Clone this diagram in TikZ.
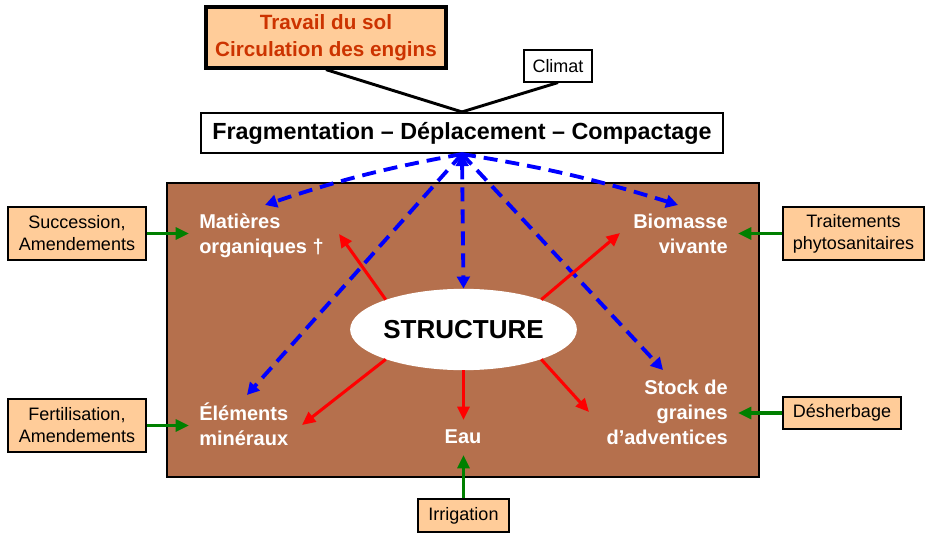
\documentclass[tikz,border=0pt]{standalone}
\usepackage{fontspec}
\setmainfont{Liberation Sans}
\usetikzlibrary{arrows.meta}
\usetikzlibrary{positioning}
\usetikzlibrary{shapes.geometric}

\definecolor{soil}{RGB}{181,112,77}
\definecolor{peach}{RGB}{255,204,153}
\definecolor{rust}{RGB}{204,51,0}
\definecolor{leaf}{RGB}{0,128,0}

\begin{document}
\begin{tikzpicture}[x=0.75pt,y=-0.75pt,
        inbox/.style={draw,fill=peach,line width=1.1pt,align=center,inner sep=0pt,
            font=\fontsize{13.5}{16.5}\selectfont},
        soiltext/.style={text=white,inner sep=0pt,font=\bfseries\fontsize{15}{18.75}\selectfont},
        effect/.style={red,line width=2.3pt,-{Triangle[length=10pt,width=9pt]}},
        action/.style={leaf,line width=2.3pt,-{Triangle[length=10pt,width=9pt]}},
        impact/.style={blue,line width=2.9pt,dash pattern=on 10.5pt off 6pt,-{Triangle[length=9pt,width=9.5pt]}}]

        \useasboundingbox (0,0) rectangle (931,538);
        \filldraw[fill=soil,draw=black,line width=0.8pt] (167,183) rectangle (759,477);

        % facteurs en haut
        \node[draw,fill=peach,line width=2.4pt,minimum width=180pt,minimum height=45.75pt,align=center,
            text=rust,font=\bfseries\fontsize{15.5}{20}\selectfont] (travail) at (326,37.5)
            {Travail du sol\\Circulation des engins};
        \node[draw,fill=white,line width=0.8pt,minimum width=51pt,minimum height=24pt,inner sep=0pt,
            font=\fontsize{13.5}{16}\selectfont] (climat) at (558,66) {Climat};
        \node[draw,fill=white,line width=1.6pt,minimum width=391.5pt,minimum height=30pt,inner sep=0pt,
            font=\bfseries\fontsize{17.5}{20}\selectfont] (frag) at (462,133)
            {Fragmentation – Déplacement – Compactage};

        \draw[line width=2.2pt] (travail.south) -- (frag.north);
        \draw[line width=2.2pt] (climat.south) -- (frag.north);

        % contenu du sol
        \node[ellipse,fill=white,minimum width=167pt,minimum height=61pt,inner sep=0pt,
            font=\bfseries\fontsize{19.5}{22}\selectfont] (struct) at (463.5,329.5) {STRUCTURE};
        \node[soiltext,anchor=west,align=left] (mo) at (199,235.5) {Matières\\organiques †};
        \node[soiltext,anchor=west,align=left] (mineraux) at (199,424.5) {Éléments\\minéraux};
        \node[soiltext,anchor=east,align=right] (bio) at (728,233.8) {Biomasse\\vivante};
        \node[soiltext,anchor=east,align=right] (stock) at (728,412.5) {Stock de\\graines\\d’adventices};
        \node[soiltext] (eau) at (463,437) {Eau};

        % pratiques
        \node[inbox,minimum width=103.5pt,minimum height=40pt] (succ) at (77,233.5) {Succession,\\Amendements};
        \node[inbox,minimum width=103.5pt,minimum height=40pt] (ferti) at (77,425.5) {Fertilisation,\\Amendements};
        \node[inbox,minimum width=106pt,minimum height=40pt] (phyto) at (853.5,233.5) {Traitements\\phytosanitaires};
        \node[inbox,minimum width=88.5pt,minimum height=24pt] (desherb) at (842,413) {Désherbage};
        \node[inbox,minimum width=68pt,minimum height=25pt] (irrig) at (463.5,515.5) {Irrigation};

        % bouts des fleches
        \coordinate (toMO) at (265,205);
        \coordinate (toMin) at (247,395);
        \coordinate (toBio) at (678,205);
        \coordinate (toStock) at (663,370);
        \coordinate (rMO) at (339,234);
        \coordinate (rMin) at (302,425);
        \coordinate (rBio) at (620,233);
        \coordinate (rStock) at (589,412);
        \coordinate (rEau) at (463.5,420);
        \coordinate (gMO) at (189,233.5);
        \coordinate (gMin) at (189,425.5);
        \coordinate (gBio) at (738,233.5);
        \coordinate (gStock) at (738,413);
        \coordinate (gEau) at (463.5,455);

        \draw[impact] (frag.south) to[bend right=4] (toMO);
        \draw[impact] (frag.south) -- (toMin);
        \draw[impact,{Triangle[length=9pt,width=9.5pt]}-{Triangle[length=9pt,width=9.5pt]}] (frag.south) -- (struct.north);
        \draw[impact] (frag.south) to[bend left=4] (toBio);
        \draw[impact] (frag.south) -- (toStock);

        \draw[effect] (struct.159) -- (rMO);
        \draw[effect] (struct.201) -- (rMin);
        \draw[effect] (struct.21) -- (rBio);
        \draw[effect] (struct.-21) -- (rStock);
        \draw[effect] (struct.south) -- (rEau);

        \draw[action] (succ) -- (gMO);
        \draw[action] (ferti) -- (gMin);
        \draw[action] (phyto) -- (gBio);
        \draw[action] (desherb) -- (gStock);
        \draw[action] (irrig) -- (gEau);
    \end{tikzpicture}
\end{document}
